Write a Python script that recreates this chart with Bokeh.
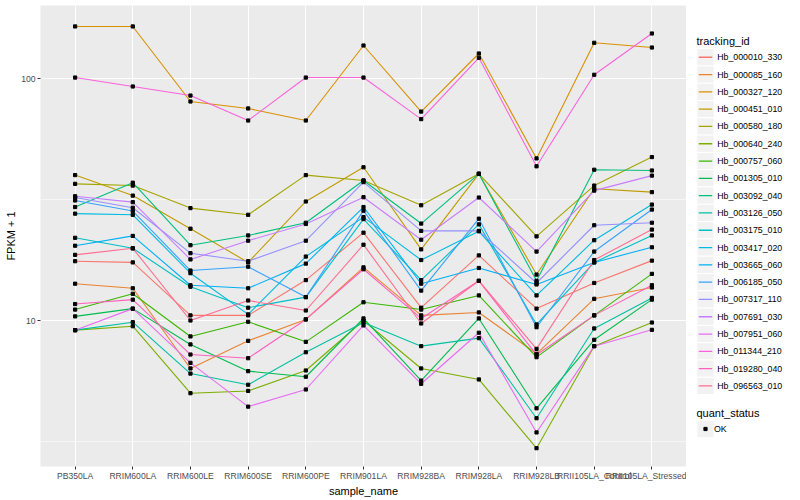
from bokeh.plotting import figure
from bokeh.models import FactorRange, Range1d, FixedTicker, NumeralTickFormatter
from bokeh.layouts import row
from bokeh.embed import file_html
from bokeh.resources import INLINE
from bokeh.core.properties import value

samples = ["PB350LA", "RRIM600LA", "RRIM600LE", "RRIM600SE", "RRIM600PE", "RRIM901LA",
           "RRIM928BA", "RRIM928LA", "RRIM928LB", "RRII105LA_Control", "RRII105LA_Stressed"]

hb_000010_330 = [17.6, 17.4, 10.5, 10.5, 14.7, 23.1, 11.3, 18.6, 11.2, 14.3, 17.7]
hb_000085_160 = [14.2, 13.6, 6.33, 8.24, 10.1, 16.6, 10.5, 10.8, 7.28, 12.3, 13.7]
hb_000327_120 = [165, 165, 80.7, 75.5, 67.3, 137.6, 73.3, 127.5, 46.9, 141.2, 135.0]
hb_000451_010 = [40.0, 32.9, 24.0, 17.4, 31.1, 43.1, 19.7, 40.5, 15.5, 35.1, 34.0]
hb_000580_180 = [36.8, 36.2, 29.2, 27.4, 40.0, 38.0, 30.0, 40.5, 22.3, 36.2, 47.5]
hb_000640_240 = [9.12, 9.47, 5.00, 5.11, 6.21, 10.0, 6.33, 5.70, 2.96, 7.83, 9.81]
hb_000757_060 = [11.1, 12.9, 8.59, 9.88, 8.16, 11.9, 11.1, 12.7, 7.05, 10.5, 15.6]
hb_001305_010 = [10.4, 11.2, 7.96, 6.17, 5.85, 10.2, 5.64, 10.2, 4.33, 8.32, 12.2]
hb_003092_040 = [29.5, 37.2, 20.5, 22.5, 25.4, 38.0, 25.2, 40.5, 14.6, 42.1, 41.8]
hb_003126_050 = [9.12, 9.84, 6.03, 5.42, 7.39, 9.81, 7.83, 8.45, 3.94, 9.27, 12.4]
hb_003175_010 = [22.0, 19.9, 13.8, 11.3, 12.5, 26.3, 14.7, 25.0, 9.63, 17.4, 22.5]
hb_003417_020 = [27.7, 27.4, 15.7, 10.6, 18.4, 26.8, 17.8, 23.4, 12.7, 21.5, 30.2]
hb_003665_060 = [20.4, 22.4, 14.0, 13.6, 17.2, 29.5, 14.2, 16.5, 14.1, 17.4, 20.1]
hb_006185_050 = [31.4, 28.4, 16.1, 16.7, 12.5, 28.5, 13.3, 26.4, 9.38, 19.3, 28.8]
hb_007317_110 = [32.3, 29.3, 19.0, 17.6, 21.4, 37.4, 23.5, 23.5, 14.3, 24.8, 25.4]
hb_007691_030 = [32.7, 30.9, 17.9, 21.4, 25.1, 32.4, 21.6, 32.3, 19.3, 34.5, 39.8]
hb_007951_060 = [9.12, 11.2, 6.68, 4.40, 5.18, 9.54, 5.47, 8.90, 3.44, 7.83, 9.15]
hb_011344_210 = [101.4, 93.1, 85.4, 67.3, 101.4, 101.4, 68.2, 122.4, 43.5, 104.1, 154.3]
hb_019280_040 = [11.7, 12.2, 7.23, 6.98, 10.1, 16.3, 10.2, 14.6, 7.21, 10.5, 14.0]
hb_096563_010 = [18.7, 19.9, 10.0, 12.1, 11.0, 20.6, 9.72, 14.6, 7.63, 17.8, 23.8]

tracking_ids = ["Hb_000010_330", "Hb_000085_160", "Hb_000327_120", "Hb_000451_010",
                "Hb_000580_180", "Hb_000640_240", "Hb_000757_060", "Hb_001305_010",
                "Hb_003092_040", "Hb_003126_050", "Hb_003175_010", "Hb_003417_020",
                "Hb_003665_060", "Hb_006185_050", "Hb_007317_110", "Hb_007691_030",
                "Hb_007951_060", "Hb_011344_210", "Hb_019280_040", "Hb_096563_010"]
series_values = [hb_000010_330, hb_000085_160, hb_000327_120, hb_000451_010,
                 hb_000580_180, hb_000640_240, hb_000757_060, hb_001305_010,
                 hb_003092_040, hb_003126_050, hb_003175_010, hb_003417_020,
                 hb_003665_060, hb_006185_050, hb_007317_110, hb_007691_030,
                 hb_007951_060, hb_011344_210, hb_019280_040, hb_096563_010]
colors = ["#F8766D", "#EA8331", "#D89000", "#C09B00", "#A3A500", "#7CAE00", "#39B600",
          "#00BB4E", "#00BF7D", "#00C1A3", "#00BFC4", "#00BAE0", "#00B0F6", "#35A2FF",
          "#9590FF", "#C77CFF", "#E76BF3", "#FA62DB", "#FF62BC", "#FF6C91"]
quant_levels = ["OK"]

FONT = "Liberation Sans"

p = figure(x_range=FactorRange(factors=samples, range_padding=0.1, range_padding_units="absolute"),
           y_axis_type="log", y_range=Range1d(2.486, 201.5),
           width=686, height=500, min_border_left=40, min_border_right=0,
           min_border_top=5, min_border_bottom=34,
           output_backend="svg", toolbar_location=None,
           background_fill_color="#EBEBEB", border_fill_color="white", outline_line_color=None)

for vals, col in zip(series_values, colors):
    p.line(samples, vals, line_color=col, line_width=1.1)
for vals in series_values:
    p.scatter(samples, vals, marker="square", size=3.2, fill_color="black", line_color="black")

p.yaxis.ticker = FixedTicker(ticks=[10, 100], minor_ticks=[10 ** 0.5, 10 ** 1.5])
p.yaxis.formatter = NumeralTickFormatter(format="0")
for ax in (p.xaxis, p.yaxis):
    ax.axis_line_color = None
    ax.major_tick_line_color = "#333333"
    ax.major_tick_out = 3
    ax.major_tick_in = 0
    ax.minor_tick_line_color = None
    ax.major_label_text_font = FONT
    ax.major_label_text_font_size = "8.6px"
    ax.major_label_text_color = "#4D4D4D"
    ax.major_label_standoff = 1
    ax.axis_label_text_font = FONT
    ax.axis_label_text_font_size = "11px"
    ax.axis_label_text_font_style = "normal"
    ax.axis_label_text_color = "black"
    ax.axis_label_standoff = 1
p.xaxis.axis_label = "sample_name"
p.yaxis.axis_label = "FPKM + 1"
p.xgrid.grid_line_color = "white"
p.xgrid.grid_line_width = 1.1
p.ygrid.grid_line_color = "white"
p.ygrid.grid_line_width = 1.1
p.ygrid.minor_grid_line_color = "white"
p.ygrid.minor_grid_line_width = 0.55

# legend panel (its frame is aligned with the main frame: top 5, bottom ~465)
lg = figure(width=114, height=500, x_range=Range1d(0, 114), y_range=Range1d(465.5, 5),
            x_axis_location=None, y_axis_location=None, min_border=0,
            output_backend="svg", toolbar_location=None, outline_line_color=None,
            background_fill_color="white", border_fill_color="white")
lg.grid.visible = False

key = 17.28
top0 = 56.7
lg.text([10], [top0 - 16], text=["tracking_id"], text_font=value(FONT), text_font_size="11px",
        text_baseline="middle", text_color="black")
ky = [top0 + key * i for i in range(len(tracking_ids))]
lg.rect([19] * len(ky), ky, width=key, height=key, fill_color="#F2F2F2", line_color="white", line_width=1)
lg.segment([12.3] * len(ky), ky, [25.7] * len(ky), ky, line_color=colors, line_width=1.3)
lg.text([30.7] * len(ky), ky, text=tracking_ids, text_font=value(FONT), text_font_size="8.8px",
        text_baseline="middle", text_color="black")

qy0 = ky[-1] + 27
lg.text([10], [qy0], text=["quant_status"], text_font=value(FONT), text_font_size="11px",
        text_baseline="middle", text_color="black")
qk = [qy0 + 16 + key * i for i in range(len(quant_levels))]
lg.rect([19] * len(qk), qk, width=key, height=key, fill_color="#F2F2F2", line_color="white", line_width=1)
lg.scatter([19] * len(qk), qk, marker="square", size=3.2, fill_color="black", line_color="black")
lg.text([27.5] * len(qk), qk, text=quant_levels, text_font=value(FONT), text_font_size="8.8px",
        text_baseline="middle", text_color="black")

layout = row(p, lg)
open("out.html", "w").write(file_html(layout, INLINE))
